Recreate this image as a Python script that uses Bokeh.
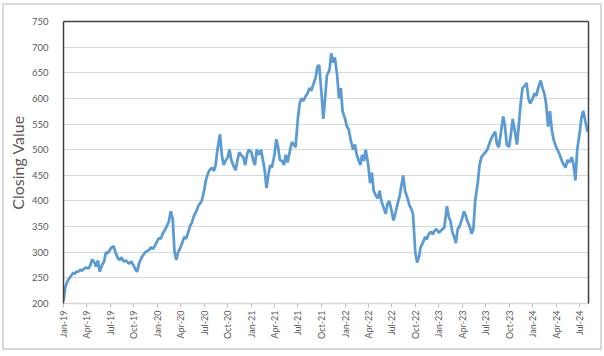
import datetime as dt
import math
from bokeh.plotting import figure
from bokeh.layouts import column
from bokeh.models import (ColumnDataSource, DatetimeTickFormatter, MonthsTicker,
                          LinearAxis, Range1d, FixedTicker)
from bokeh.embed import file_html
from bokeh.resources import INLINE

# Monthly groups of (approximately weekly) closing values, Jan-2019 .. Aug-2024
months = [
    (2019, 1, [205, 232, 242, 248]),
    (2019, 2, [255, 260, 258, 263]),
    (2019, 3, [262, 266, 264, 268]),
    (2019, 4, [270, 268, 274, 286]),
    (2019, 5, [280, 272, 284, 262]),
    (2019, 6, [276, 282, 300, 298]),
    (2019, 7, [305, 310, 312, 300]),
    (2019, 8, [288, 285, 290, 282]),
    (2019, 9, [284, 280, 278, 282]),
    (2019, 10, [274, 266, 262, 278]),
    (2019, 11, [290, 295, 300, 302]),
    (2019, 12, [305, 310, 306, 312]),
    (2020, 1, [322, 328, 326, 336]),
    (2020, 2, [345, 352, 360, 380]),
    (2020, 3, [365, 300, 285, 300]),
    (2020, 4, [310, 320, 330, 326]),
    (2020, 5, [340, 352, 358, 370]),
    (2020, 6, [380, 390, 395, 400]),
    (2020, 7, [420, 440, 452, 460]),
    (2020, 8, [465, 458, 470, 500]),
    (2020, 9, [530, 490, 470, 478]),
    (2020, 10, [485, 500, 480, 470]),
    (2020, 11, [460, 480, 495, 490]),
    (2020, 12, [485, 470, 490, 500]),
    (2021, 1, [495, 480, 470, 500]),
    (2021, 2, [490, 500, 480, 460]),
    (2021, 3, [425, 450, 470, 465]),
    (2021, 4, [490, 520, 505, 480]),
    (2021, 5, [478, 470, 490, 475]),
    (2021, 6, [500, 515, 510, 505]),
    (2021, 7, [560, 590, 600, 595]),
    (2021, 8, [605, 610, 620, 615]),
    (2021, 9, [630, 640, 662, 665]),
    (2021, 10, [610, 560, 600, 645]),
    (2021, 11, [655, 688, 670, 680]),
    (2021, 12, [645, 600, 620, 575]),
    (2022, 1, [560, 545, 540, 520]),
    (2022, 2, [500, 510, 490, 480]),
    (2022, 3, [470, 490, 478, 500]),
    (2022, 4, [470, 435, 455, 420]),
    (2022, 5, [410, 405, 420, 400]),
    (2022, 6, [385, 375, 395, 400]),
    (2022, 7, [380, 362, 375, 390]),
    (2022, 8, [410, 430, 450, 420]),
    (2022, 9, [405, 392, 385, 375]),
    (2022, 10, [300, 280, 290, 310]),
    (2022, 11, [320, 330, 325, 335]),
    (2022, 12, [340, 335, 342, 345]),
    (2023, 1, [338, 342, 345, 348]),
    (2023, 2, [390, 370, 360, 340]),
    (2023, 3, [330, 318, 345, 350]),
    (2023, 4, [365, 380, 372, 360]),
    (2023, 5, [350, 336, 345, 400]),
    (2023, 6, [435, 470, 485, 490]),
    (2023, 7, [495, 500, 510, 520]),
    (2023, 8, [530, 535, 510, 505]),
    (2023, 9, [540, 565, 545, 510]),
    (2023, 10, [505, 530, 560, 540]),
    (2023, 11, [510, 550, 590, 620]),
    (2023, 12, [625, 630, 600, 590]),
    (2024, 1, [600, 610, 605, 620]),
    (2024, 2, [635, 620, 610, 590]),
    (2024, 3, [545, 575, 540, 520]),
    (2024, 4, [505, 498, 490, 480]),
    (2024, 5, [470, 465, 480, 475]),
    (2024, 6, [485, 470, 440, 500]),
    (2024, 7, [530, 560, 576, 560]),
    (2024, 8, [535]),
]
week_days = [1, 8, 15, 22]
y_ticks = [200, 250, 300, 350, 400, 450, 500, 550, 600, 650, 700, 750]
tick_months = [0, 3, 6, 9]  # Jan, Apr, Jul, Oct (BokehJS months are 0-based)

dates, values = [], []
for yr, mo, vals in months:
    for i, v in enumerate(vals):
        dates.append(dt.datetime(yr, mo, week_days[i]))
        values.append(v)

src = ColumnDataSource(dict(date=dates, close=values))

FONT = "Lato"
GREY = "#595959"
DARK = "#404040"

p = figure(width=596, height=343, x_axis_type="datetime",
           x_range=Range1d(dt.datetime(2019, 1, 1), dt.datetime(2024, 8, 5)),
           y_range=Range1d(200, 750),
           output_backend="svg", toolbar_location=None,
           min_border_left=56, min_border_right=12,
           min_border_top=16, min_border_bottom=45)
p.outline_line_color = None
p.background_fill_color = "white"
p.border_fill_color = "white"

p.line("date", "close", source=src, line_color="#5b9bd5", line_width=2.75)

# axes
p.yaxis.ticker = FixedTicker(ticks=y_ticks)
p.yaxis.axis_label = "Closing Value"
p.yaxis.axis_label_text_font = FONT
p.yaxis.axis_label_text_font_style = "normal"
p.yaxis.axis_label_text_font_size = "16px"
p.yaxis.axis_label_text_color = GREY
p.yaxis.axis_label_standoff = 2
p.yaxis.major_label_text_font = FONT
p.yaxis.major_label_text_font_size = "9.5px"
p.yaxis.major_label_text_color = GREY
p.yaxis.major_label_standoff = 9
p.yaxis.major_tick_line_color = None
p.yaxis.minor_tick_line_color = None
p.yaxis.axis_line_color = DARK
p.yaxis.axis_line_width = 1.5

p.xaxis.ticker = MonthsTicker(months=tick_months)
p.xaxis.formatter = DatetimeTickFormatter(months="%b-%y", days="%b-%y", years="%b-%y")
p.xaxis.major_label_orientation = math.pi / 2
p.xaxis.major_label_text_font = FONT
p.xaxis.major_label_text_font_size = "9px"
p.xaxis.major_label_text_color = GREY
p.xaxis.major_label_standoff = 3
p.xaxis.major_tick_in = 0
p.xaxis.major_tick_out = 4
p.xaxis.major_tick_line_color = "#bfbfbf"
p.xaxis.minor_tick_line_color = None
p.xaxis.axis_line_color = "#d9d9d9"
p.xaxis.axis_line_width = 1.5

for loc in ("above", "right"):
    ax = LinearAxis(ticker=FixedTicker(ticks=[]), major_label_text_font_size="0px",
                    major_tick_line_color=None, minor_tick_line_color=None,
                    axis_line_color=DARK, axis_line_width=1.5)
    p.add_layout(ax, loc)

p.xgrid.grid_line_color = None
p.ygrid.grid_line_color = "#d9d9d9"
p.ygrid.grid_line_width = 1.2

# light outer chart border around the whole chart
layout = column(p, styles={"border": "2px solid #d9d9d9", "margin": "3px 0 0 2px",
                           "background": "white"})

open("out.html", "w").write(file_html(layout, INLINE))
